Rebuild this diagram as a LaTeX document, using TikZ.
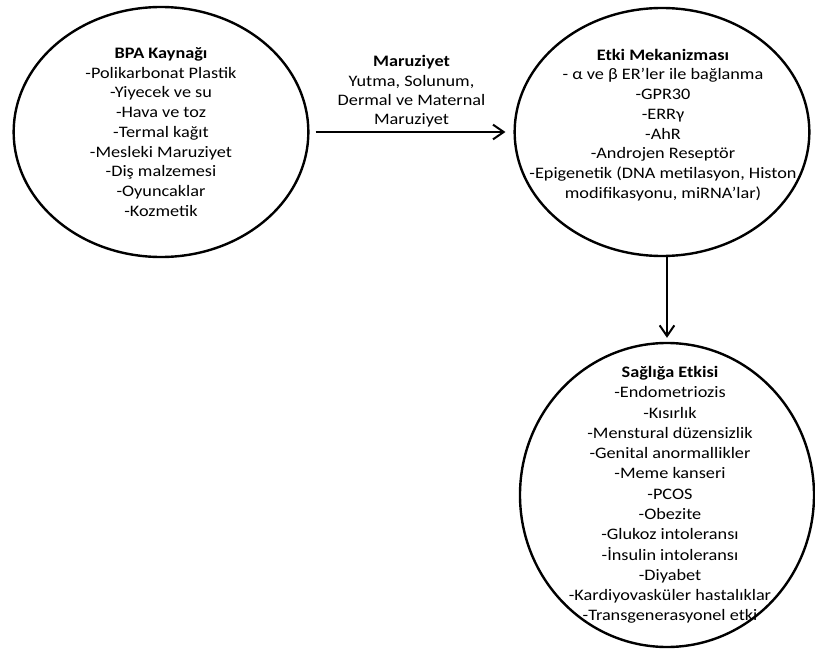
\documentclass[tikz,border=0pt]{standalone}
\usepackage{fontspec}
\setmainfont{Carlito}[FakeStretch=1.14]
\usetikzlibrary{arrows.meta,positioning,shapes.geometric}
\tikzset{
  bubble/.style={draw=black, line width=1.8pt, ellipse, inner sep=0pt},
  bubbletext/.style={align=center, font=\fontsize{12pt}{14.8pt}\selectfont, inner sep=0pt},
  flow/.style={-{Straight Barb[length=8pt,width=11pt]}, line width=1.5pt},
  flowlabel/.style={midway, above=3pt, align=center, font=\fontsize{12pt}{14.4pt}\selectfont, inner sep=0pt}
}

\begin{document}
\begin{tikzpicture}[x=0.75pt, y=-0.75pt]
  \useasboundingbox (0,0) rectangle (815,650);
  % three ellipses
  \node[bubble, minimum width=221pt, minimum height=187.5pt] (kaynak) at (161,132) {};
  \node[bubble, minimum width=221pt, minimum height=186pt] (etki) at (662,132) {};
  \node[bubble, minimum width=220.5pt, minimum height=228pt] (saglik) at (667,495) {};
  % their texts
  \node[bubbletext] (kaynaktxt) at (kaynak.center) {\textbf{BPA Kaynağı}\\-Polikarbonat Plastik\\-Yiyecek ve su\\-Hava ve toz\\-Termal kağıt\\-Mesleki Maruziyet\\-Diş malzemesi\\-Oyuncaklar\\-Kozmetik};
  \node[bubbletext] (etkitxt) at ([shift={(1,-7)}]etki.center) {\textbf{Etki Mekanizması}\\- α ve β ER'ler ile bağlanma\\-GPR30\\-ERRγ\\-AhR\\-Androjen Reseptör\\-Epigenetik (DNA metilasyon, Histon\\modifikasyonu, miRNA'lar)};
  \node[bubbletext, font=\fontsize{12pt}{15.2pt}\selectfont] (sagliktxt) at ([shift={(3,0)}]saglik.center) {\textbf{Sağlığa Etkisi}\\-Endometriozis\\-Kısırlık\\-Menstural düzensizlik\\-Genital anormallikler\\-Meme kanseri\\-PCOS\\-Obezite\\-Glukoz intoleransı\\-İnsulin intoleransı\\-Diyabet\\-Kardiyovasküler hastalıklar\\-Transgenerasyonel etki};
  % arrows
  \draw[flow, shorten <=4.5pt, shorten >=6pt] (kaynak) -- (etki)
    node[flowlabel] (maruz) {\textbf{Maruziyet}\\Yutma, Solunum,\\Dermal ve Maternal\\Maruziyet};
  \draw[flow, shorten >=3pt] (etki.south -| saglik.north) -- (saglik.north);
\end{tikzpicture}
\end{document}
